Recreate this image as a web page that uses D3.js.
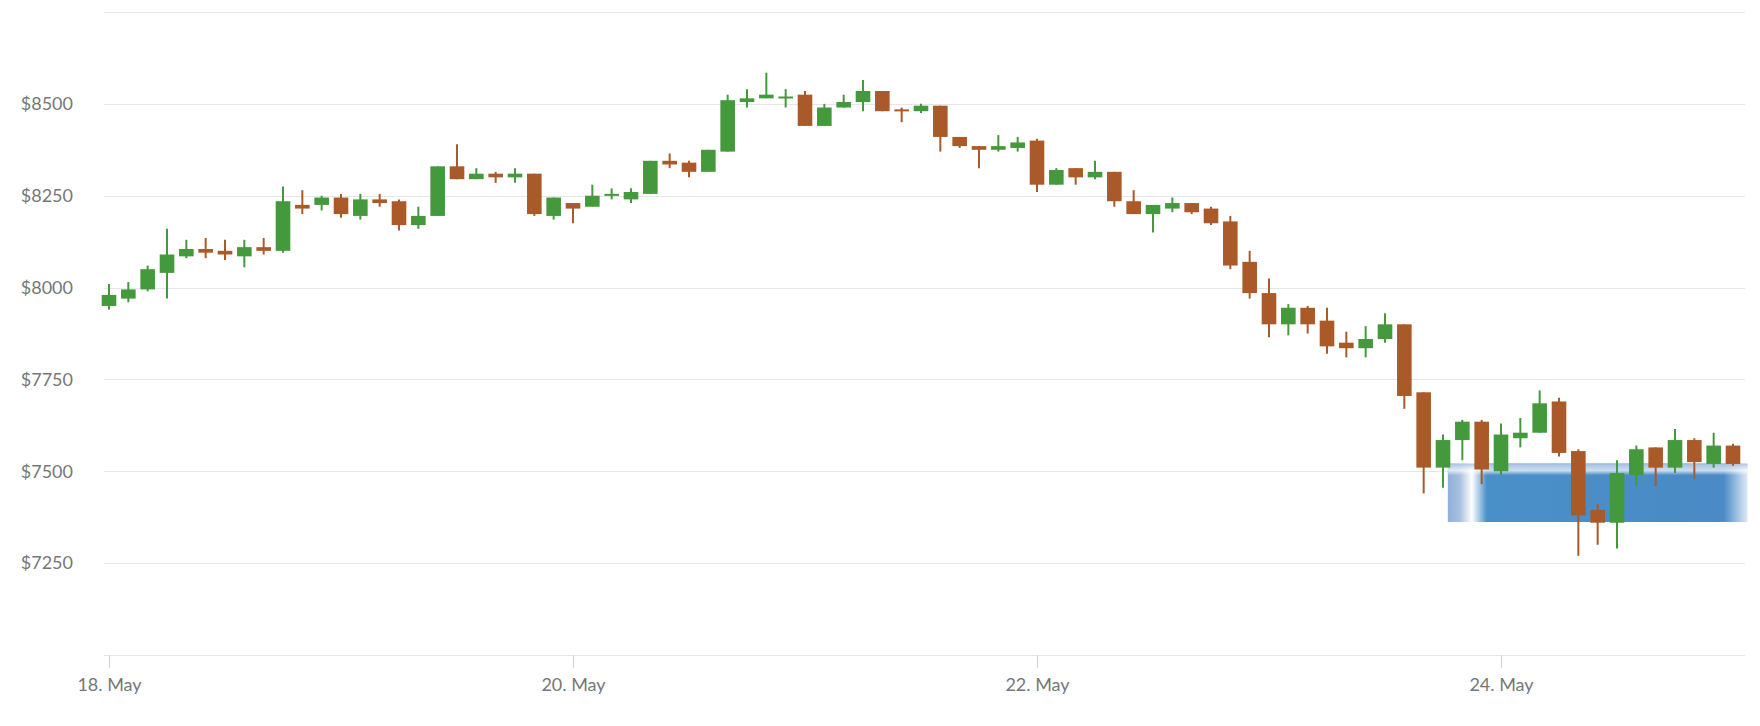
<!DOCTYPE html>
<html><head><meta charset="utf-8">
<script src="https://cdn.jsdelivr.net/npm/d3@7"></script>
<style>
body{margin:0;background:#fff;font-family:Lato,"Open Sans",sans-serif;}
.grid line{stroke:#e6e6e6;}
.tick text{fill:#777;font-size:18px;font-family:Lato,sans-serif;}
</style></head><body><svg id="chart" width="1760" height="726"></svg>
<script>
// hours since 18 May 00:00, 2h steps
const opens  = [7950,7970,7995,8040,8085,8105,8100,8085,8110,8100,8225,8225,8245,8195,8240,8235,8170,8195,8330,8295,8310,8300,8310,8195,8230,8220,8250,8240,8255,8345,8340,8315,8370,8505,8515,8515,8525,8440,8490,8505,8535,8485,8480,8495,8410,8385,8375,8380,8400,8280,8325,8300,8315,8235,8200,8215,8230,8215,8180,8070,7985,7900,7945,7910,7850,7835,7860,7900,7715,7510,7585,7635,7500,7590,7605,7690,7555,7395,7360,7490,7565,7510,7585,7520,7570];
const closes = [7980,7995,8050,8090,8105,8095,8090,8110,8100,8235,8215,8245,8200,8240,8230,8170,8195,8330,8295,8310,8300,8310,8200,8245,8215,8250,8255,8260,8345,8335,8315,8375,8510,8515,8525,8520,8440,8490,8505,8535,8480,8480,8495,8410,8385,8375,8385,8395,8280,8320,8300,8315,8235,8200,8225,8230,8205,8175,8060,7985,7900,7945,7900,7840,7835,7860,7900,7705,7510,7585,7635,7505,7600,7605,7685,7550,7380,7360,7495,7560,7510,7585,7525,7570,7520];
const highs  = [8010,8015,8060,8160,8130,8135,8130,8130,8135,8275,8265,8250,8255,8255,8255,8240,8220,8330,8390,8325,8315,8325,8310,8245,8230,8280,8270,8270,8345,8365,8345,8375,8525,8540,8585,8540,8535,8500,8525,8565,8535,8490,8500,8495,8410,8385,8415,8410,8405,8325,8325,8345,8315,8265,8225,8245,8230,8220,8195,8100,8025,7955,7950,7945,7880,7895,7930,7900,7715,7600,7640,7640,7630,7645,7720,7700,7560,7410,7530,7570,7565,7615,7590,7605,7575];
const lows   = [7940,7960,7990,7970,8080,8080,8075,8055,8090,8095,8200,8210,8190,8185,8220,8155,8160,8195,8295,8295,8285,8285,8195,8185,8175,8220,8240,8230,8255,8325,8300,8315,8370,8490,8515,8490,8440,8440,8490,8480,8480,8450,8475,8370,8380,8325,8370,8370,8260,8280,8280,8295,8220,8200,8150,8205,8200,8170,8050,7970,7865,7870,7875,7820,7810,7810,7850,7670,7440,7455,7530,7465,7490,7565,7605,7540,7270,7300,7290,7460,7460,7495,7480,7510,7515];
const yTicks = [7250,7500,7750,8000,8250,8500];
const gridVals = [7000,7250,7500,7750,8000,8250,8500,8750];
const dayTicks = [0,48,96,144];
const dayLabels = ["18. May","20. May","22. May","24. May"];

const data = opens.map((o,i)=>({t:i*2,o,c:closes[i],h:highs[i],l:lows[i]}));
const svg = d3.select("#chart");
const x = d3.scaleLinear().domain([0,168]).range([109,109+232*7]);
const y = d3.scaleLinear().domain([7000,8750]).range([655,12]);

svg.append("g").attr("class","grid").selectAll("line").data(gridVals).join("line")
  .attr("x1",104).attr("x2",1745).attr("y1",d=>Math.round(y(d))+0.5).attr("y2",d=>Math.round(y(d))+0.5);

const ya = svg.append("g").attr("transform","translate(76,0)")
  .call(d3.axisLeft(y).tickValues(yTicks).tickSize(0).tickFormat(d=>"$"+d));
ya.select(".domain").remove();
ya.selectAll("text").attr("dy","0.32em");

const xa = svg.append("g").attr("transform","translate(0,655)")
  .call(d3.axisBottom(x).tickValues(dayTicks).tickSize(13).tickPadding(10).tickFormat((d,i)=>dayLabels[i]));
xa.select(".domain").remove();
xa.selectAll("line").attr("stroke","#ccd6eb");

// blue overlay block
const defs = svg.append("defs");
const gr = defs.append("linearGradient").attr("id","bg");
[[0,"#8fb0d8"],[0.04,"#a8c0e0"],[0.08,"#ffffff"],[0.13,"#4a90c8"],[0.92,"#4a8ac6"],[1,"#dfe9f6"]].forEach(s=>gr.append("stop").attr("offset",s[0]).attr("stop-color",s[1]));
const gv = defs.append("linearGradient").attr("id","bgv").attr("x2",0).attr("y2",1);
[[0,"#a9c1df",0.9],[0.12,"#ffffff",0.7],[0.2,"#ffffff",0],[1,"#ffffff",0]].forEach(s=>gv.append("stop").attr("offset",s[0]).attr("stop-color",s[1]).attr("stop-opacity",s[2]));
const bx = x(138.5), bw = x(169.5)-x(138.5), by = y(7521), bh = y(7362)-y(7521);
svg.append("rect").attr("x",bx).attr("width",bw).attr("y",by).attr("height",bh).attr("fill","url(#bg)");
svg.append("rect").attr("x",bx).attr("width",bw).attr("y",by).attr("height",bh).attr("fill","url(#bgv)");

const w = 14.6;
const col = d=>d.c>=d.o?"#43993b":"#aa5a28";
const cg = svg.append("g");
cg.selectAll(".wick").data(data).join("line")
  .attr("x1",d=>x(d.t)).attr("x2",d=>x(d.t)).attr("y1",d=>y(d.h)).attr("y2",d=>y(d.l))
  .attr("stroke",col).attr("stroke-width",2);
cg.selectAll(".body").data(data).join("rect")
  .attr("x",d=>x(d.t)-w/2).attr("width",w)
  .attr("y",d=>y(Math.max(d.o,d.c))).attr("height",d=>Math.max(2,Math.abs(y(d.o)-y(d.c))))
  .attr("fill",col);
</script></body></html>
